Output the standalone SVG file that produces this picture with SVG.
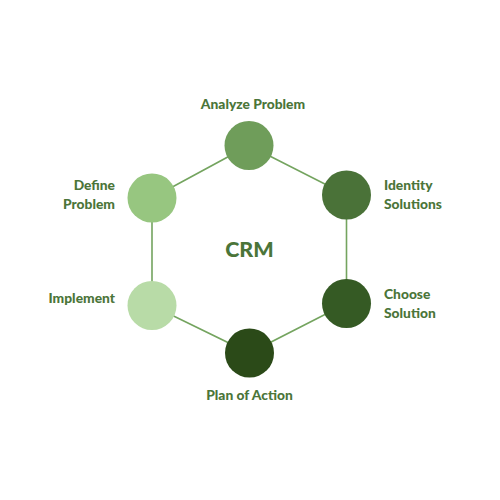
<svg xmlns="http://www.w3.org/2000/svg" width="500" height="500" viewBox="0 0 500 500">
<style>
.lbl{font-family:Lato,"Open Sans",sans-serif;font-weight:900;font-size:13.8px;fill:#4b7539}
.edge{stroke:#74a45f;stroke-width:1.6;fill:none}
</style>
<rect width="500" height="500" fill="#ffffff"/>
<g id="connectors">
<polygon class="edge" points="249,145.5 346.5,195 346.5,303.5 249.5,353 152,305.5 152,198"/>
</g>
<g id="analyze"><circle cx="249" cy="145.5" r="24.5" fill="#6f9d5a"/><text class="lbl" x="253" y="109" text-anchor="middle">Analyze Problem</text></g>
<g id="identity"><circle cx="346.5" cy="195" r="24.5" fill="#4a7238"/><text class="lbl" x="384" y="190">Identity</text><text class="lbl" x="384" y="209">Solutions</text></g>
<g id="choose"><circle cx="346.5" cy="303.5" r="24.5" fill="#355a24"/><text class="lbl" x="384" y="299">Choose</text><text class="lbl" x="384" y="318">Solution</text></g>
<g id="plan"><circle cx="249.5" cy="353" r="24.5" fill="#2b4a18"/><text class="lbl" x="249.5" y="400" text-anchor="middle">Plan of Action</text></g>
<g id="implement"><circle cx="152" cy="305.5" r="24.5" fill="#b8dba7"/><text class="lbl" x="115" y="302.5" text-anchor="end">Implement</text></g>
<g id="define"><circle cx="152" cy="198" r="24.5" fill="#97c680"/><text class="lbl" x="115" y="190" text-anchor="end">Define</text><text class="lbl" x="115" y="209" text-anchor="end">Problem</text></g>
<g id="center"><text x="249.5" y="257" text-anchor="middle" style="font-family:Lato,sans-serif;font-weight:900;font-size:21.5px;fill:#4b7539">CRM</text></g>
</svg>
